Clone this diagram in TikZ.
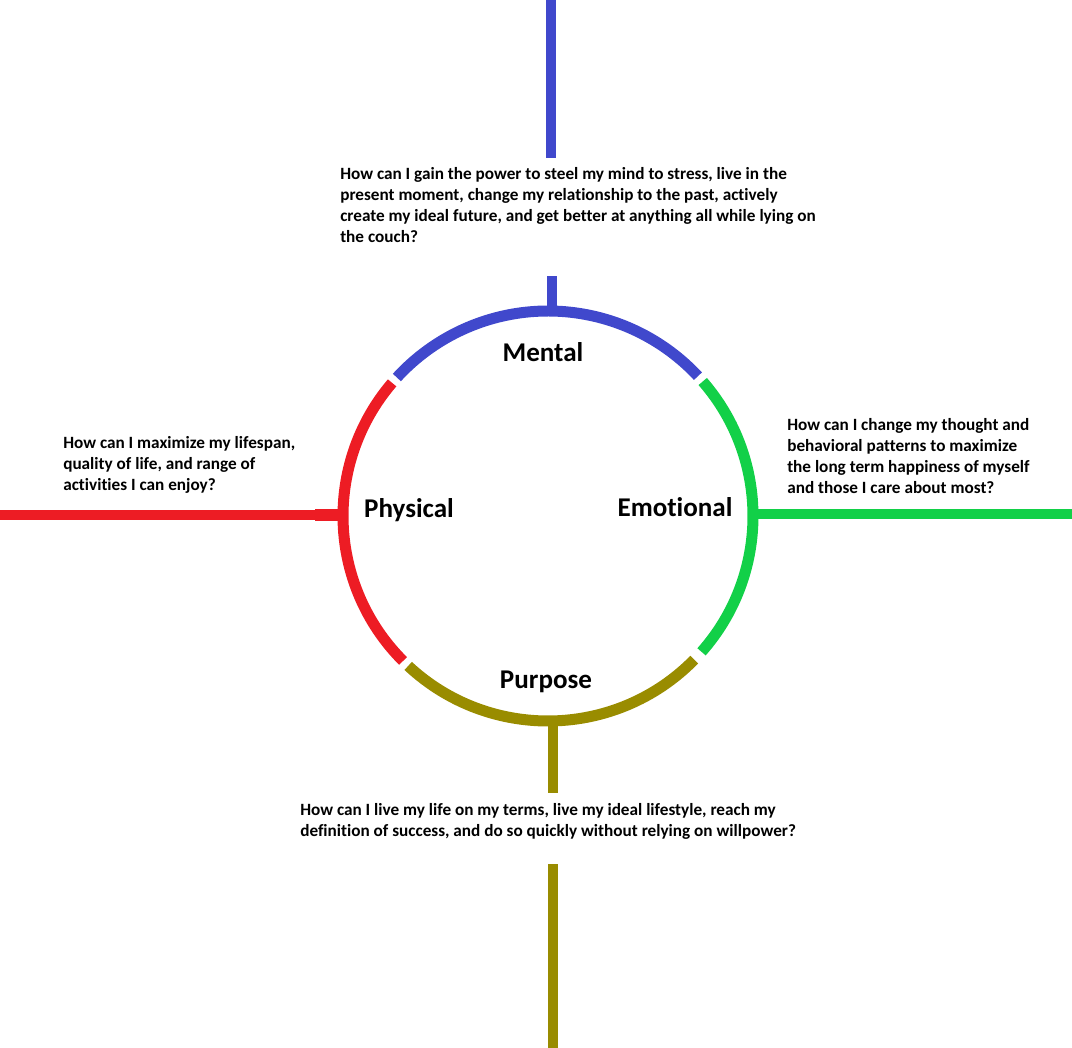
\documentclass[tikz,border=0pt]{standalone}
\usepackage{fontspec}
\setmainfont{Carlito}[RawFeature=-liga]
\definecolor{cblue}{RGB}{64,72,204}
\definecolor{cred}{RGB}{237,28,36}
\definecolor{cgreen}{RGB}{18,208,72}
\definecolor{colive}{RGB}{153,140,0}
\begin{document}
\begin{tikzpicture}[x=0.75pt,y=0.75pt,
  ring/.style={line width=8.25pt},
  spoke/.style={line width=6.8pt},
  stub/.style={line width=7.6pt},
  question/.style={anchor=north west,inner sep=0pt,align=left,font=\fontsize{12.9}{15.9}\selectfont\bfseries},
  label/.style={anchor=base,inner sep=0pt,font=\fontsize{20.3}{24}\selectfont\bfseries}]
\useasboundingbox (0,0) rectangle (1072,-1048);
\coordinate (c) at (548,-516);
% ring arcs
\draw[ring,cblue] ([shift={(43:205)}]c) arc (43:137.5:205);
\draw[ring,cred] ([shift={(139.5:205)}]c) arc (139.5:225:205);
\draw[ring,colive] ([shift={(227:205)}]c) arc (227:315.5:205);
\draw[ring,cgreen] ([shift={(318.5:205)}]c) arc (318.5:401:205);
% spoke coordinates
\coordinate (mA) at (552,-312);
\coordinate (mB) at (552,-276);
\coordinate (mC) at (551,-158);
\coordinate (mD) at (551,0);
\coordinate (pA) at (553,-719);
\coordinate (pB) at (553,-793);
\coordinate (pC) at (553,-864);
\coordinate (pD) at (553,-1048);
\coordinate (yA) at (343,-515);
\coordinate (yB) at (315,-515);
\coordinate (yC) at (0,-515);
\coordinate (eA) at (753,-514);
\coordinate (eB) at (1072,-514);
% spokes
\draw[stub,cblue] (mA) -- (mB);
\draw[spoke,cblue] (mC) -- (mD);
\draw[stub,colive] (pA) -- (pB);
\draw[spoke,colive] (pC) -- (pD);
\draw[line width=9pt,cred] (yA) -- (yB);
\draw[spoke,cred] (yB) -- (yC);
\draw[spoke,cgreen] (eA) -- (eB);
% labels
\node[label] (mental) at (543,-362) {Mental};
\node[label] (physical) at (409,-518) {Physical};
\node[label] (emotional) at (675,-517) {Emotional};
\node[label] (purpose) at (546,-688) {Purpose};
% questions
\node[question] (qm) at (340,-167) {How can I gain the power to steel my mind to stress, live in the\\present moment, change my relationship to the past, actively\\create my ideal future, and get better at anything all while lying on\\the couch?};
\node[question] (qy) at (63,-436) {How can I maximize my lifespan,\\quality of life, and range of\\activities I can enjoy?};
\node[question] (qe) at (787,-418) {How can I change my thought and\\behavioral patterns to maximize\\the long term happiness of myself\\and those I care about most?};
\node[question] (qp) at (300,-803) {How can I live my life on my terms, live my ideal lifestyle, reach my\\definition of success, and do so quickly without relying on willpower?};
\end{tikzpicture}
\end{document}
